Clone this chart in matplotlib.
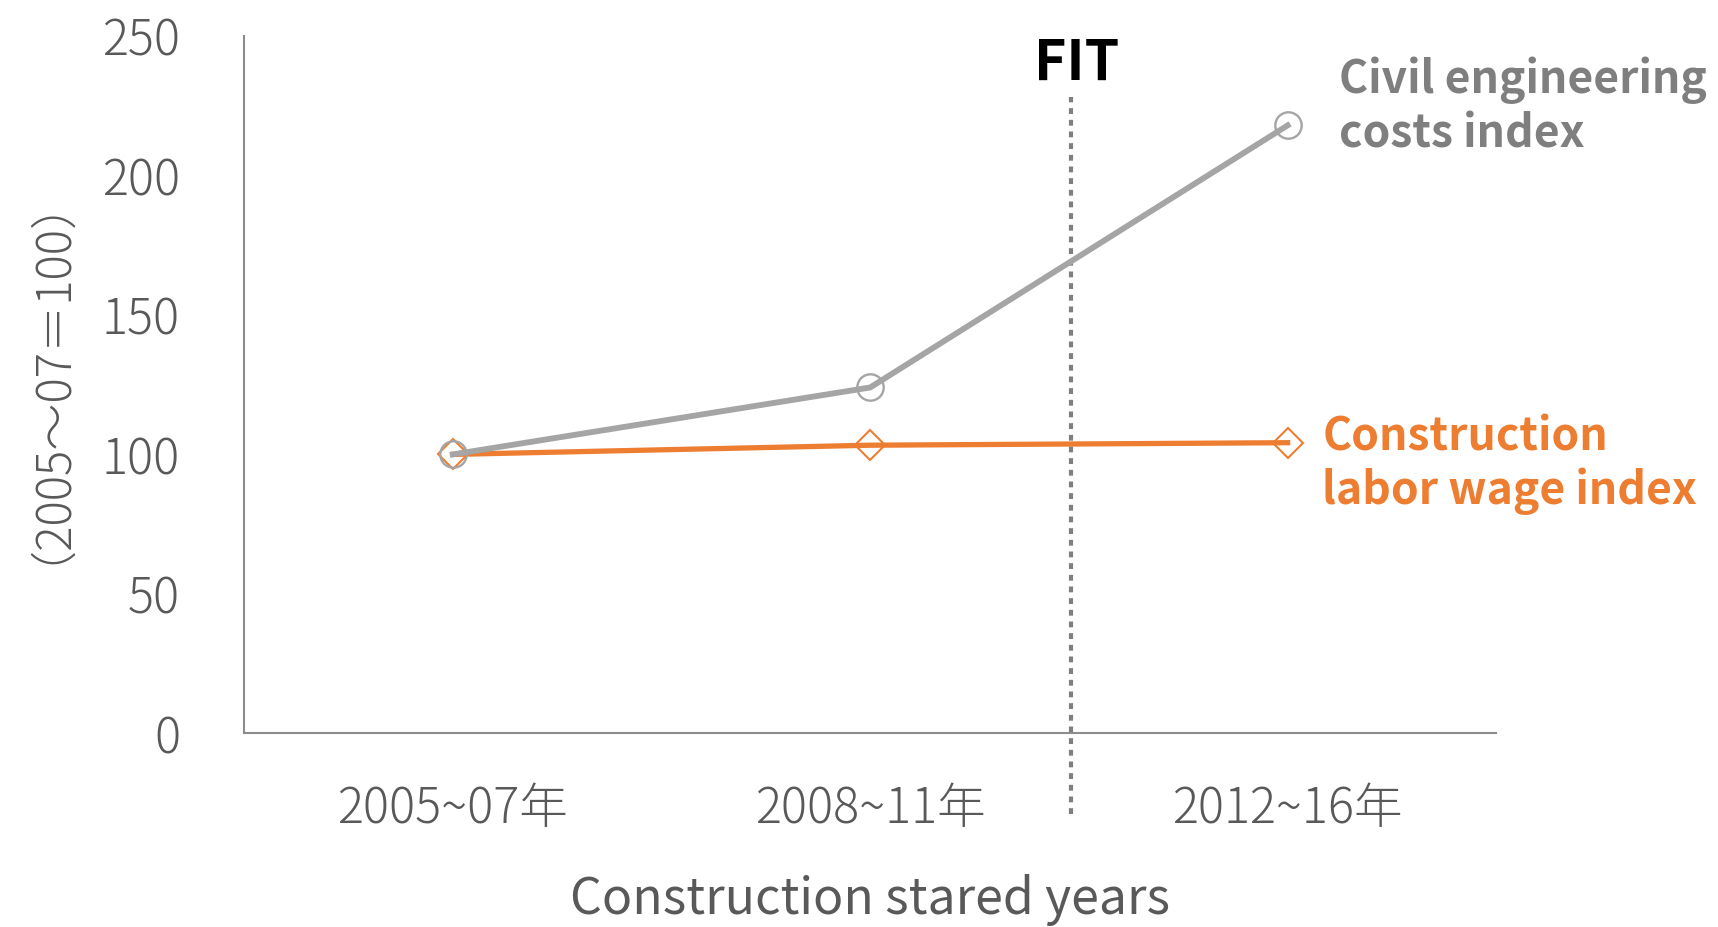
"""
Civil engineering costs vs construction labor wage index
"""
import matplotlib
matplotlib.use('Agg')
import matplotlib.pyplot as plt

# ###
# data
# ###
YEAR_LABELS = ['2005~07年', '2008~11年', '2012~16年']
CIVIL_COST  = [100, 124, 218]
LABOR_WAGE  = [100, 103.3, 104.2]
FIT_POS     = 1.48

# figure variables
COLOR_GRAY   = '#A5A5A5'
COLOR_ORANGE = '#ED7D31'
COLOR_TEXT   = '#595959'
COLOR_SPINE  = '#8C8C8C'
FONT_LIST    = ['Noto Sans CJK JP', 'DejaVu Sans']

plt.rcParams['font.family'] = FONT_LIST
plt.rcParams['font.weight'] = 'light'

fig = plt.figure(figsize=(17.18, 9.27), dpi=100, facecolor='w')
ax = fig.add_axes([0.142, 0.209, 0.729, 0.752])

x = list(range(len(YEAR_LABELS)))
ax.plot(x, LABOR_WAGE, color=COLOR_ORANGE, linewidth=3.8, marker='D', markersize=15,
        markerfacecolor='none', markeredgecolor=COLOR_ORANGE, markeredgewidth=1.5, zorder=3)
ax.plot(x, CIVIL_COST, color=COLOR_GRAY, linewidth=4.2, marker='o', markersize=19,
        markerfacecolor='none', markeredgecolor=COLOR_GRAY, markeredgewidth=1.7, zorder=4)

# FIT line
ax.plot([FIT_POS, FIT_POS], [-29, 228], color='#7F7F7F', linewidth=3,
        linestyle=(0, (1.4, 1.4)), dash_capstyle='butt', clip_on=False, zorder=2)
ax.text(FIT_POS + 0.015, 240, 'FIT', ha='center', va='center', fontsize=40,
        fontweight='bold', color='black')

# series labels
ax.annotate('Civil engineering\ncosts index', xy=(x[-1], CIVIL_COST[-1]),
            xytext=(37, 13), textcoords='offset points', ha='left', va='center',
            fontsize=32, fontweight='bold', color='#7F7F7F', linespacing=1.2)
ax.annotate('Construction\nlabor wage index', xy=(x[-1], LABOR_WAGE[-1]),
            xytext=(25, -16), textcoords='offset points', ha='left', va='center',
            fontsize=32, fontweight='bold', color=COLOR_ORANGE, linespacing=1.2)

# axes setting
ax.set_xlim(-0.5, 2.5)
ax.set_ylim(0, 250)
ax.set_xticks(x)
ax.set_xticklabels(YEAR_LABELS)
ax.set_yticks([0, 50, 100, 150, 200, 250])
ax.tick_params(axis='both', length=0, labelsize=35, labelcolor=COLOR_TEXT)
ax.tick_params(axis='y', pad=46)
ax.tick_params(axis='x', pad=36)
for side in ['top', 'right']:
    ax.spines[side].set_visible(False)
for side in ['left', 'bottom']:
    ax.spines[side].set_color(COLOR_SPINE)
    ax.spines[side].set_linewidth(1.5)

ax.set_xlabel('Construction stared years', fontsize=36, color=COLOR_TEXT, labelpad=28)
fig.text(0.014, 0.616, '（2005～07＝100）', rotation=90, ha='center', va='center',
         fontsize=34, color=COLOR_TEXT)

fig.savefig('out.png', dpi=100, facecolor='w')
